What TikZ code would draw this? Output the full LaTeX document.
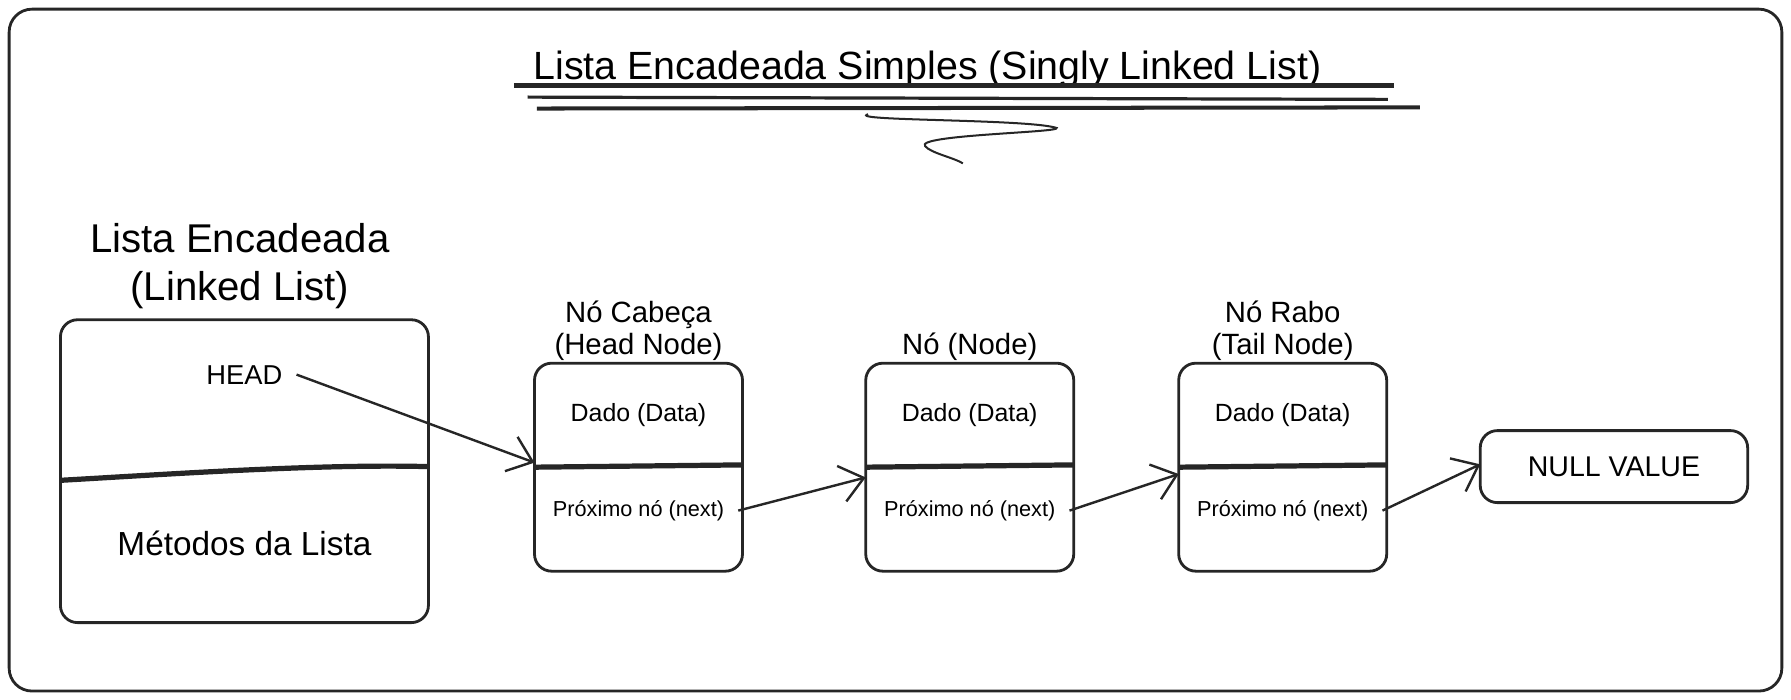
\documentclass[tikz,border=0pt]{standalone}
\usepackage{fontspec}
\setmainfont{Liberation Sans}
\usetikzlibrary{positioning,arrows.meta}
\colorlet{ink}{black!85}
\newcommand{\textdado}{Dado (Data)}
\newcommand{\textprox}{Próximo nó (next)}
\newcommand{\bigtext}[1]{\fontsize{10}{11}\selectfont #1}

\begin{document}
\begin{tikzpicture}[x=0.01cm,y=-0.01cm,
    any/.style={draw=ink,line width=0.7pt,rounded corners=0.15cm,outer sep=0pt},
    cell/.style={any,minimum width=1.82cm,minimum height=1.82cm},
    divider/.style={ink,line width=1.3pt},
    link/.style={ink,line width=0.6pt,-{Straight Barb[length=2mm,width=3.2mm]}},
    tiny/.style={font=\fontsize{5.4}{6}\selectfont},
    small/.style={font=\fontsize{6.2}{7}\selectfont},
    caption/.style={align=center,inner sep=0.5pt,font=\fontsize{7.3}{8}\selectfont}
]
\useasboundingbox (0,0) rectangle (1568,612.8);
\draw[ink,line width=0.7pt,rounded corners=0.2cm] (8,8) rectangle (1560,605);

% title and its underline
\node (title) at (812,61) {\fontsize{9.8}{10}\selectfont Lista Encadeada Simples (Singly Linked List)};
\draw[ink,line width=1.1pt] (450,75) -- (1220,75);
\draw[ink,line width=0.8pt] (462,85) -- (1215,87);
\draw[ink,line width=1pt] (470,95) -- (1243,94);
\draw[ink,line width=0.5pt] (760,100) .. controls (740,106) and (900,104) .. (925,112)
      .. controls (930,116) and (800,118) .. (810,128) .. controls (815,134) and (835,138) .. (843,143);

% linked list
\node[any,minimum width=3.22cm,minimum height=2.65cm] (list) at (214,412.5) {};
\node[align=center] (listname) at (210,233) {\bigtext{Lista Encadeada}\\ \bigtext{(Linked List)}};
\draw[divider] ([yshift=-0.08cm]list.west) .. controls (150,415) and (280,406) .. ([yshift=0.04cm]list.east);
\node[font=\fontsize{6.8}{7}\selectfont] (head) at ([yshift=0.845cm]list.center) {HEAD};
\node[font=\fontsize{8.3}{9}\selectfont] (methods) at ([yshift=-0.635cm]list.center) {Métodos da Lista};

% nodes
\node[cell] (n1) at (559,409) {};
\node[cell] (n2) at (849,409) {};
\node[cell] (n3) at (1123,409) {};
\node[caption, above=0pt of n1] (lab1) {Nó Cabeça\\(Head Node)};
\node[caption, above=0pt of n2] (lab2) {Nó (Node)};
\node[caption, above=0pt of n3] (lab3) {Nó Rabo\\(Tail Node)};

\draw[divider] (n1.west) -- ([yshift=0.02cm]n1.east);
\draw[divider] (n2.west) -- ([yshift=0.02cm]n2.east);
\draw[divider] (n3.west) -- ([yshift=0.02cm]n3.east);

\node[small] (data1) at ([yshift=0.46cm]n1.center) {\textdado};
\node[small] (data2) at ([yshift=0.46cm]n2.center) {\textdado};
\node[small] (data3) at ([yshift=0.46cm]n3.center) {\textdado};
\node[tiny] (next1) at ([yshift=-0.38cm]n1.center) {\textprox};
\node[tiny] (next2) at ([yshift=-0.38cm]n2.center) {\textprox};
\node[tiny] (next3) at ([yshift=-0.38cm]n3.center) {\textprox};

\node[any,minimum width=2.34cm,minimum height=0.63cm,font=\fontsize{7.1}{8}\selectfont] (null) at (1413,408.5) {NULL VALUE};

% pointers
\draw[link] (head.east) -- ([yshift=0.04cm]n1.west);
\draw[link] (next1.east) -- ([yshift=-0.09cm]n2.west);
\draw[link] (next2.east) -- ([yshift=-0.06cm]n3.west);
\draw[link] (next3.east) -- ([yshift=0.02cm]null.west);
\end{tikzpicture}
\end{document}
